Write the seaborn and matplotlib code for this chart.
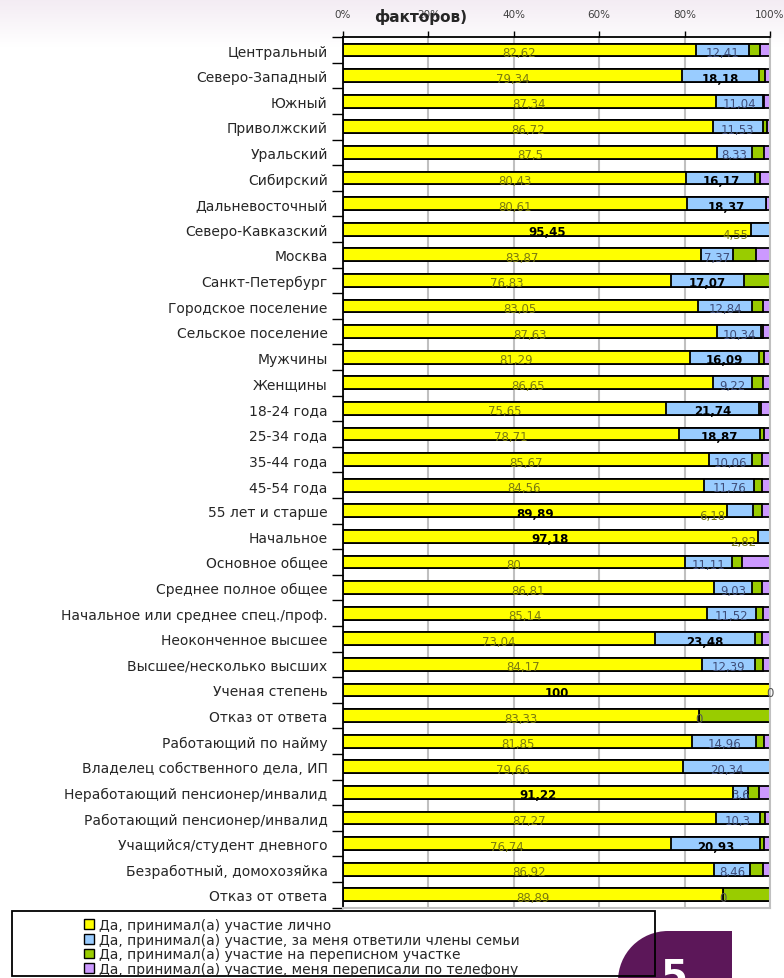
import numpy as np
import pandas as pd
import matplotlib
matplotlib.use("Agg")
import matplotlib.pyplot as plt
import matplotlib.patches as mpatches
import matplotlib.transforms as mtransforms
import seaborn as sns

categories = [
    "Центральный", "Северо-Западный", "Южный", "Приволжский", "Уральский",
    "Сибирский", "Дальневосточный", "Северо-Кавказский", "Москва",
    "Санкт-Петербург", "Городское поселение", "Сельское поселение",
    "Мужчины", "Женщины", "18-24 года", "25-34 года", "35-44 года",
    "45-54 года", "55 лет и старше", "Начальное", "Основное общее",
    "Среднее полное общее", "Начальное или среднее спец./проф.",
    "Неоконченное высшее", "Высшее/несколько высших", "Ученая степень",
    "Отказ от ответа", "Работающий по найму", "Владелец собственного дела, ИП",
    "Неработающий пенсионер/инвалид", "Работающий пенсионер/инвалид",
    "Учащийся/студент дневного", "Безработный, домохозяйка", "Отказ от ответа",
]
lichno = [82.62, 79.34, 87.34, 86.72, 87.5, 80.43, 80.61, 95.45, 83.87, 76.83,
          83.05, 87.63, 81.29, 86.65, 75.65, 78.71, 85.67, 84.56, 89.89, 97.18,
          80, 86.81, 85.14, 73.04, 84.17, 100, 83.33, 81.85, 79.66, 91.22,
          87.27, 76.74, 86.92, 88.89]
semya = [12.41, 18.18, 11.04, 11.53, 8.33, 16.17, 18.37, 4.55, 7.37, 17.07,
         12.84, 10.34, 16.09, 9.22, 21.74, 18.87, 10.06, 11.76, 6.18, 2.82,
         11.11, 9.03, 11.52, 23.48, 12.39, 0, 0, 14.96, 20.34, 3.6,
         10.3, 20.93, 8.46, 0]
uchastok = [2.7, 1.2, 0.3, 1.0, 2.7, 1.1, 0, 0, 5.5, 6.1,
            2.4, 0.5, 1.2, 2.4, 0.6, 0.9, 2.5, 1.9, 2.0, 0,
            2.22, 2.4, 1.8, 1.6, 1.8, 0, 16.67, 1.8, 0, 2.5,
            1.3, 1.0, 3.0, 11.11]
telefon = [2.27, 1.28, 1.32, 0.75, 1.47, 2.3, 1.02, 0, 3.26, 0,
           1.71, 1.53, 1.42, 1.73, 2.01, 1.52, 1.77, 1.78, 1.93, 0,
           6.67, 1.76, 1.54, 1.88, 1.64, 0, 0, 1.39, 0, 2.68,
           1.13, 1.33, 1.62, 0]

bold_lichno = [7, 18, 19, 25, 29]
bold_semya = [1, 5, 6, 9, 12, 14, 15, 23, 31]
semya_left = [7, 18, 19]
zero_semya = [25, 26, 33]

legend_labels = [
    "Да, принимал(а) участие лично",
    "Да, принимал(а) участие, за меня ответили члены семьи",
    "Да, принимал(а) участие на переписном участке",
    "Да, принимал(а) участие, меня переписали по телефону",
]
colors = ["#ffff00", "#99ccff", "#99cc00", "#cc99ff"]

sns.set_theme(style="white")
plt.rcParams["font.family"] = ["DejaVu Sans"]

n = len(categories)
df = pd.DataFrame({"row": np.arange(n)})
df["c1"] = np.array(lichno)
df["c2"] = df["c1"] + np.array(semya)
df["c3"] = df["c2"] + np.array(uchastok)
df["c4"] = df["c3"] + np.array(telefon)

W, H = 784, 979
fig = plt.figure(figsize=(W / 100, H / 100), dpi=100, facecolor="white")

# светлый градиент сверху
bg = fig.add_axes([0, 1 - 48 / H, 1, 48 / H], zorder=-5)
grad = np.linspace(0, 1, 50)[:, None, None]
top = np.array([0.955, 0.925, 0.955])
rgb = top * (1 - grad) + np.ones(3) * grad
bg.imshow(np.repeat(rgb, 10, axis=1), aspect="auto", extent=[0, 1, 0, 1])
bg.axis("off")

ax = fig.add_axes([343 / W, 1 - 908.6 / H, 427 / W, 870.4 / H])
for col, color in zip(["c4", "c3", "c2", "c1"], colors[::-1]):
    sns.barplot(data=df, x=col, y="row", orient="h", color=color, saturation=1,
                edgecolor="black", linewidth=1.3, width=0.5, errorbar=None, ax=ax)

ax.set_xlim(0, 100)
ax.set_ylim(n - 0.5, -0.5)
ax.set_xlabel("")
ax.set_ylabel("")
ax.set_axisbelow(True)
ax.grid(axis="x", color="#c0c0c0", lw=1.5)
ax.grid(axis="y", visible=False)

ax.xaxis.tick_top()
ax.set_xticks(range(0, 101, 20), [f"{v}%" for v in range(0, 101, 20)])
ax.tick_params(axis="x", top=True, length=4, width=1, color="black",
               labelsize=7.5, labelcolor="#404040", pad=9)
ax.set_yticks(range(n), categories)
ax.set_yticks(np.arange(-0.5, n, 1), minor=True)
ax.tick_params(axis="y", which="major", length=0, labelsize=10, pad=11)
ax.tick_params(axis="y", which="minor", left=True, length=8, width=1, color="black")

for side in ["left", "top"]:
    ax.spines[side].set_color("black")
    ax.spines[side].set_linewidth(1.3)
for side in ["right", "bottom"]:
    ax.spines[side].set_color("#c0c0c0")
    ax.spines[side].set_linewidth(1.5)

olive = "#7a7a10"
slate = "#3f4d78"
dy = 0.1
for i in range(n):
    y = lichno[i]
    s = semya[i]
    txt = f"{y:g}".replace(".", ",")
    if i in bold_lichno:
        ax.text(y / 2, i + dy, txt, ha="center", va="center", fontsize=8.5,
                fontweight="bold", color="black")
    else:
        ax.text(y / 2, i + dy, txt, ha="center", va="center", fontsize=8.5,
                color=olive)
    stxt = f"{s:g}".replace(".", ",")
    if i in zero_semya:
        ax.text(y, i + dy, stxt, ha="center", va="center", fontsize=8.5,
                color="#555555")
    elif i in semya_left:
        ax.text(y - 0.4, i + 0.2, stxt, ha="right", va="center", fontsize=8.5,
                color=olive)
    elif i in bold_semya:
        ax.text(y + s / 2, i + dy, stxt, ha="center", va="center", fontsize=8.5,
                fontweight="bold", color="black")
    else:
        ax.text(y + s / 2, i + dy, stxt, ha="center", va="center", fontsize=8.5,
                color=slate)

fig.text(421 / W, 1 - 17 / H, "факторов)", ha="center", va="center",
         fontsize=11, fontweight="bold")

# фиолетовая плашка с номером
ident = mtransforms.IdentityTransform()
purple = "#5c1759"
fig.add_artist(mpatches.Wedge((668, H - 982), 50, 90, 180, facecolor=purple,
                              edgecolor="none", transform=ident, zorder=1))
fig.add_artist(mpatches.Rectangle((667, -10), 65, H - 932 + 10, facecolor=purple,
                                  edgecolor="none", transform=ident, zorder=1))
fig.add_artist(mpatches.Rectangle((618, -10), 50, 8, facecolor=purple,
                                  edgecolor="none", transform=ident, zorder=1))
fig.text(675 / W, 1 - 958 / H, "5", ha="center", va="top", fontsize=28,
         fontweight="bold", color="white", zorder=2)

# рамка легенды
fig.add_artist(mpatches.Rectangle((12, H - 977), 643, 65, facecolor="none",
                                  edgecolor="black", lw=1.3, transform=ident,
                                  zorder=3))
handles = [mpatches.Patch(facecolor=c, edgecolor="black", lw=1) for c in colors]
leg = fig.legend(handles, legend_labels, loc="upper left",
                 bbox_to_anchor=(84 / W, 1 - 919 / H), frameon=False,
                 fontsize=10, handlelength=0.7, handleheight=0.7,
                 handletextpad=0.35, labelspacing=0.05, borderpad=0,
                 borderaxespad=0)
leg.set_zorder(4)

fig.savefig("out.png", dpi=100)
